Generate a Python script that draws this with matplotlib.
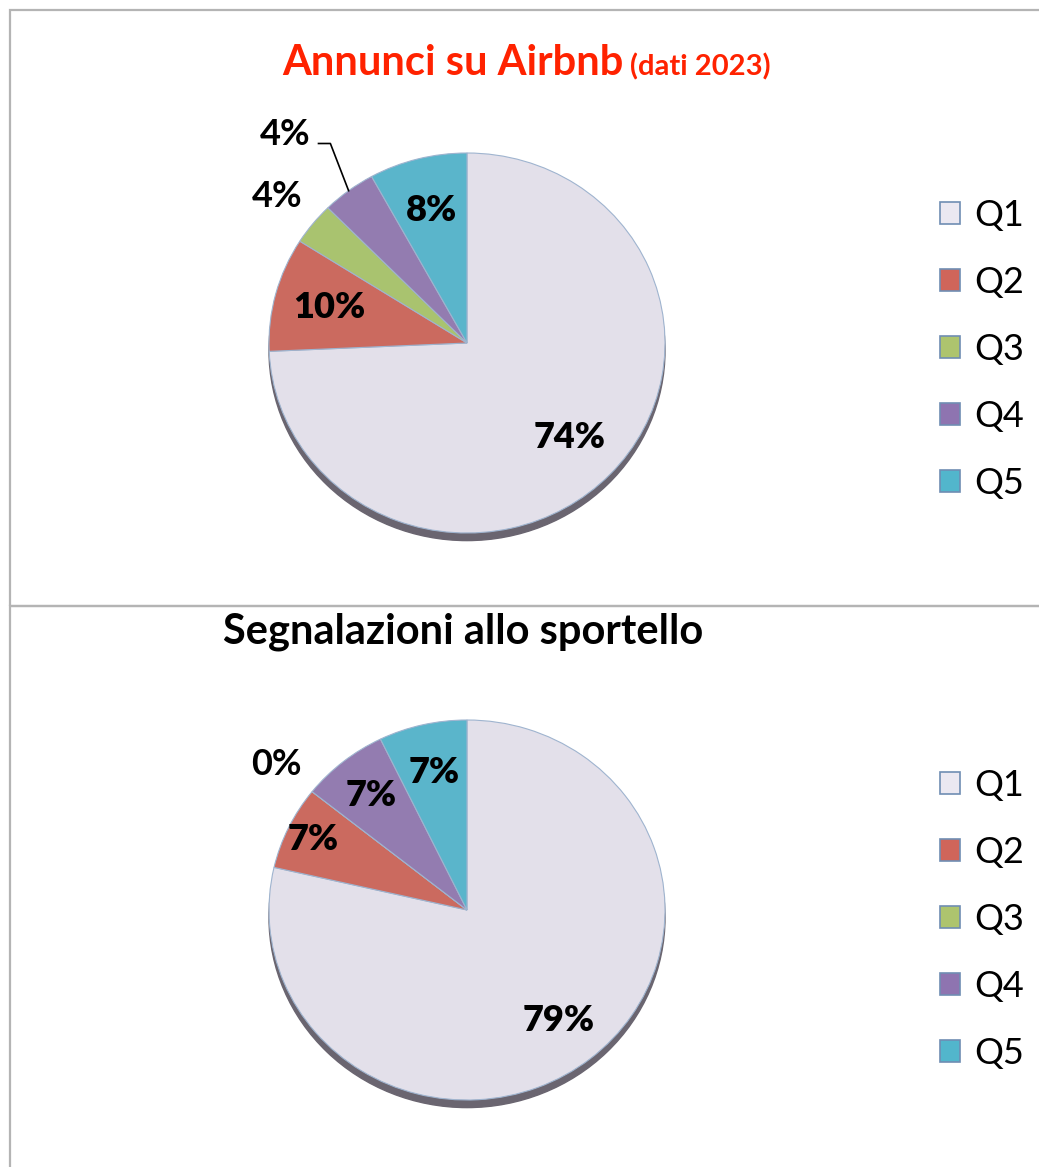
import numpy as np
import matplotlib
matplotlib.use("Agg")
import matplotlib.pyplot as plt
from matplotlib.patches import Rectangle, Ellipse, Patch

plt.rcParams['font.family'] = ['Lato', 'DejaVu Sans']

# dati
categories = ['Q1', 'Q2', 'Q3', 'Q4', 'Q5']
airbnb = [74.3, 9.7, 3.6, 4.4, 8.0]
sportello = [78.6, 7.1, 0.0, 7.1, 7.2]
colors = ['#e3e0ea', '#cb6a5f', '#a9c36f', '#937cb0', '#5ab5cb']
legend_colors = ['#ebe8f1', '#cf655a', '#adc46e', '#8e74b0', '#52b6cc']

W, H = 1039, 1167
fig = plt.figure(figsize=(W / 100, H / 100), dpi=100)

# cornici dei due pannelli
fig.add_artist(Rectangle((10 / W, (H - 606) / H), 1.1, 596 / H,
                         transform=fig.transFigure, fill=False,
                         edgecolor='#b4b4b4', lw=1.6))
fig.add_artist(Rectangle((10 / W, -0.1), 1.1, (H - 606) / H + 0.1,
                         transform=fig.transFigure, fill=False,
                         edgecolor='#b4b4b4', lw=1.6))

LBL = 26


def draw_pie(cx, cy, values, dists, leader=None):
    rx, ry = 198, 190
    ax = fig.add_axes([(cx - rx) / W, (H - cy - ry) / H, 2 * rx / W, 2 * ry / H])
    # ombra
    shadow = Ellipse((0, -0.04), 2, 2, color='#6a6570', zorder=0)
    ax.add_patch(shadow)
    shadow.set_clip_on(False)
    wedges, _ = ax.pie(values, colors=colors, startangle=90, counterclock=False,
                       wedgeprops=dict(edgecolor='#9fb4cf', linewidth=0.8))
    for w in wedges:
        w.set_zorder(1)
    ax.set_aspect('auto')
    ax.set_xlim(-1, 1)
    ax.set_ylim(-1, 1)
    ax.axis('off')

    for i, (w, v) in enumerate(zip(wedges, values)):
        a = np.deg2rad((w.theta1 + w.theta2) / 2)
        txt = '%.0f%%' % v
        if leader is not None and i == leader[0]:
            lx, ly = leader[1]
            ax.text(lx, ly, txt, ha='right', va='baseline', fontsize=LBL,
                    fontweight='bold', zorder=3)
            ax.plot([lx + 0.04, lx + 0.10, np.cos(a)],
                    [ly + 0.01, ly + 0.01, np.sin(a)],
                    color='black', lw=1.2, zorder=2, clip_on=False)
            continue
        d = dists[i]
        ax.text(d * np.cos(a), d * np.sin(a), txt, ha='center', va='center',
                fontsize=LBL, fontweight='heavy' if d < 1 else 'bold', zorder=3)
    return ax


def draw_legend(y0):
    handles = [Patch(facecolor=c, edgecolor='#6f8db3', lw=1.2) for c in legend_colors]
    fig.legend(handles, categories, loc='upper left',
               bbox_to_anchor=(940 / W, (H - y0) / H), frameon=False,
               borderaxespad=0, borderpad=0,
               fontsize=26, handlelength=0.55, handleheight=0.55,
               handletextpad=0.4, labelspacing=0.94)


# pannello superiore
fig.text(624 / W, (H - 75) / H, 'Annunci su Airbnb', ha='right', va='baseline',
         color='#ff2200', fontsize=30, fontweight='bold')
fig.text(630 / W, (H - 75) / H, '(dati 2023)', ha='left', va='baseline',
         color='#ff2200', fontsize=21, fontweight='bold')
draw_pie(467, 343, airbnb, [0.72, 0.72, 1.23, 0, 0.72], leader=(3, (-0.79, 1.04)))
draw_legend(199)

# pannello inferiore
fig.text(463 / W, (H - 632) / H, 'Segnalazioni allo sportello', ha='center',
         va='center', color='black', fontsize=30, fontweight='bold')
draw_pie(467, 910, sportello, [0.74, 0.86, 1.23, 0.77, 0.74])
draw_legend(769)

fig.savefig('out.png', dpi=100)
